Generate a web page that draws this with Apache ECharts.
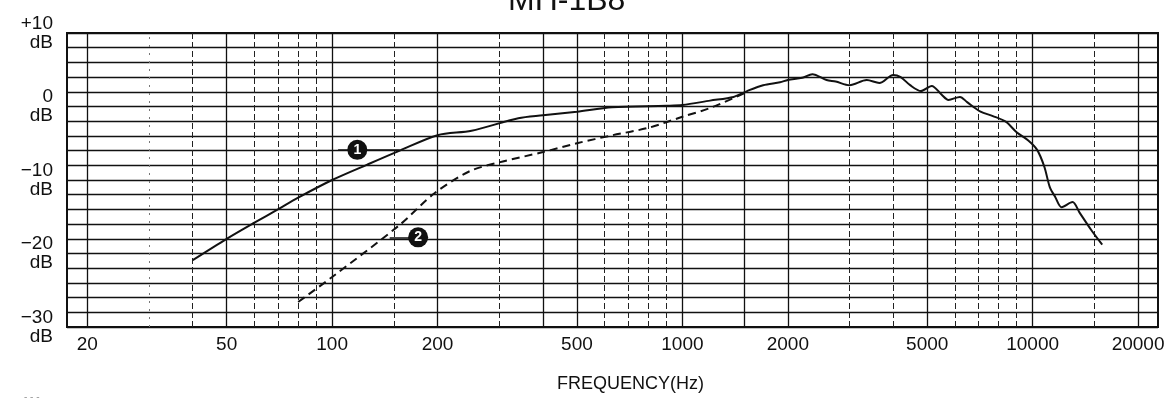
<!DOCTYPE html>
<html>
<head>
<meta charset="utf-8">
<style>
  html, body { margin: 0; padding: 0; background: #fff; }
  #chart { width: 1176px; height: 406px; }
</style>
<script src="https://cdn.jsdelivr.net/npm/echarts@6/dist/echarts.min.js"></script>
</head>
<body>
<div id="chart"></div>
<script>
// ---- data ----
const chartTitle = 'MH-1B8';
const xAxisName = 'FREQUENCY(Hz)';
const xMinHz = 17.5;
const xMaxHz = 22800;
const tickHz = [20, 50, 100, 200, 500, 1000, 2000, 5000, 10000, 20000];
const solidGridHz = [20, 50, 100, 200, 400, 500, 1000, 1500, 2000, 5000, 10000, 20000];
const dashedGridHz = [40, 60, 70, 80, 90, 150, 300, 600, 700, 800, 900, 3000, 4000, 6000, 7000, 8000, 9000, 15000];
const faintGridHz = [30];
const yLabelDb = [-30, -20, -10, 0, 10];

// curve 1 (solid)
const curve1Hz = [40, 50, 60, 70, 80, 100, 126, 156, 200, 250, 340, 400, 500, 630, 900, 1000, 1200, 1400, 1530, 1700, 1900, 2000, 2200, 2350, 2580, 2740, 3000, 3360, 3650, 4000, 4200, 4470, 4800, 5150, 5500, 5750, 6200, 6500, 7100, 7700, 8400, 9000, 9700, 10300, 10800, 11200, 11600, 12100, 13000, 13600, 14700, 15800];
const curve1Db = [-20.9, -18.0, -15.8, -14.0, -12.4, -10.0, -7.9, -6.0, -3.9, -3.3, -1.6, -1.2, -0.7, -0.1, 0.1, 0.2, 0.8, 1.3, 2.1, 2.9, 3.3, 3.6, 3.9, 4.4, 3.6, 3.4, 2.9, 3.6, 3.2, 4.3, 4.0, 2.9, 2.1, 2.8, 1.6, 0.9, 1.3, 0.6, -0.7, -1.3, -2.1, -3.5, -4.6, -5.9, -8.2, -11.0, -12.3, -13.7, -13.0, -14.4, -16.8, -18.8];

// curve 2 (dashed)
const curve2Hz = [80, 100, 156, 196, 247, 300, 400, 500, 633, 800, 1000, 1200, 1500];
const curve2Db = [-26.6, -23.2, -16.1, -11.8, -8.8, -7.6, -6.2, -5.0, -3.9, -2.9, -1.4, -0.2, 1.8];

// callouts: [label, circle Hz, circle dB, leader start Hz, leader end Hz]
const callout1 = ['1', 118, -5.9, 104, 156];
const callout2 = ['2', 176, -17.8, 146, 176];

// ---- chart ----
const pairs = (xs, ys) => xs.map((x, i) => [x, ys[i]]);
const FONT = '"Liberation Sans", Arial, sans-serif';
const INK = '#111';

const gridLines = []
  .concat(solidGridHz.map(f => ({ xAxis: f, lineStyle: { type: 'solid', color: '#111', width: 1.3 } })))
  .concat(dashedGridHz.map(f => ({ xAxis: f, lineStyle: { type: [6, 3], color: '#222', width: 1 } })))
  .concat(faintGridHz.map(f => ({ xAxis: f, lineStyle: { type: [2, 6], color: '#777', width: 1 } })));

function calloutMarks(c) {
  return {
    markPoint: {
      silent: true,
      animation: false,
      symbol: 'circle',
      symbolSize: 20,
      itemStyle: { color: INK },
      label: { show: true, color: '#fff', fontWeight: 'bold', fontSize: 14, fontFamily: FONT },
      data: [{ coord: [c[1], c[2]], value: c[0] }]
    }
  };
}

const chart = echarts.init(document.getElementById('chart'), null, { renderer: 'canvas' });
chart.setOption({
  animation: false,
  backgroundColor: '#fff',
  title: {
    text: chartTitle,
    left: 503,
    top: -20,
    textStyle: { fontFamily: FONT, fontSize: 32, fontWeight: 'normal', color: INK }
  },
  grid: {
    left: 67, right: 18, top: 33, bottom: 79,
    show: true, borderColor: '#111', borderWidth: 2, backgroundColor: 'transparent'
  },
  xAxis: [
    {
      type: 'log', logBase: 10, min: xMinHz, max: xMaxHz,
      axisLine: { show: false }, axisTick: { show: false },
      axisLabel: { show: false }, splitLine: { show: false },
      name: xAxisName, nameLocation: 'middle', nameGap: 48,
      nameTextStyle: { fontFamily: FONT, fontSize: 18, color: INK, padding: [0, 0, 0, 36] }
    },
    {
      type: 'value', position: 'bottom',
      min: Math.log10(xMinHz), max: Math.log10(xMaxHz),
      axisLine: { show: false }, axisTick: { show: false }, splitLine: { show: false },
      axisLabel: {
        customValues: tickHz.map(f => Math.log10(f)),
        formatter: v => String(Math.round(Math.pow(10, v))),
        fontFamily: FONT, fontSize: 19, color: INK, margin: 8
      }
    }
  ],
  yAxis: {
    type: 'value', min: -30, max: 10, interval: 2,
    axisLine: { show: false }, axisTick: { show: false },
    splitLine: { show: true, lineStyle: { color: '#111', width: 1.3 } },
    axisLabel: {
      fontFamily: FONT, fontSize: 19, color: INK, margin: 14, lineHeight: 19, align: 'right',
      formatter: v => {
        if (yLabelDb.indexOf(v) < 0) return '';
        const s = v > 0 ? '+' + v : v < 0 ? '\u2212' + Math.abs(v) : '0';
        return s + '\ndB';
      }
    }
  },
  series: [
    {
      name: 'grid', type: 'line', xAxisIndex: 0, data: [], silent: true,
      markLine: { silent: true, animation: false, symbol: ['none', 'none'], label: { show: false }, data: gridLines }
    },
    Object.assign({
      name: 'curve1', type: 'line', xAxisIndex: 0, showSymbol: false, smooth: 0.3, z: 5,
      lineStyle: { color: INK, width: 2 },
      data: pairs(curve1Hz, curve1Db),
      markLine: {
        silent: true, animation: false, symbol: ['none', 'none'], label: { show: false },
        lineStyle: { color: INK, width: 1.5, type: 'solid' },
        data: [[{ coord: [callout1[3], callout1[2]] }, { coord: [callout1[4], callout1[2]] }]]
      }
    }, calloutMarks(callout1)),
    Object.assign({
      name: 'curve2', type: 'line', xAxisIndex: 0, showSymbol: false, smooth: 0.3, z: 5,
      lineStyle: { color: INK, width: 2, type: [8, 5] },
      data: pairs(curve2Hz, curve2Db),
      markLine: {
        silent: true, animation: false, symbol: ['none', 'none'], label: { show: false },
        lineStyle: { color: INK, width: 1.5, type: 'solid' },
        data: [[{ coord: [callout2[3], callout2[2]] }, { coord: [callout2[4], callout2[2]] }]]
      }
    }, calloutMarks(callout2))
  ],
  graphic: [
    { type: 'text', left: 24, top: 392, style: { text: '- - -', fill: '#999', font: '10px ' + FONT } }
  ]
});
</script>
</body>
</html>
